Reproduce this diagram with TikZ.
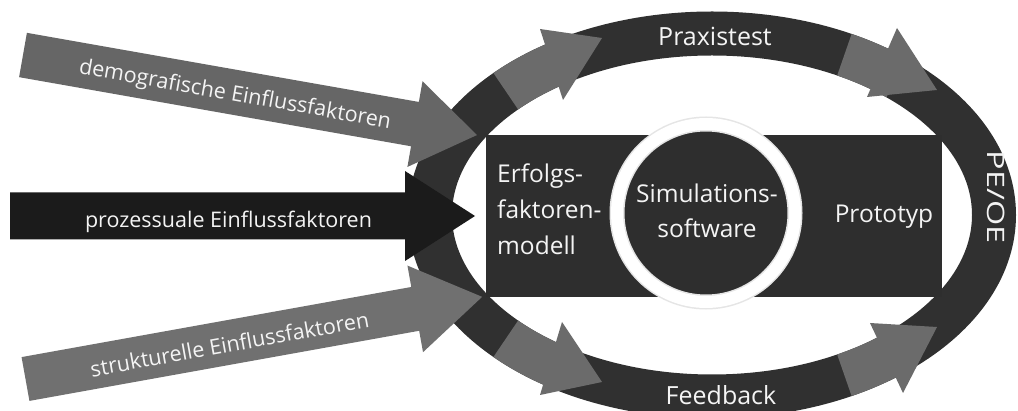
\documentclass[tikz,border=0pt]{standalone}
\usepackage{fontspec}
\setmainfont{Open Sans}
\definecolor{ringdark}{HTML}{303030}
\definecolor{ringgray}{HTML}{6B6B6B}
\definecolor{boxdark}{HTML}{2E2E2E}
\definecolor{blackarrow}{HTML}{1B1B1B}
\definecolor{demogray}{HTML}{666666}
\definecolor{strukgray}{HTML}{707070}
\definecolor{txtwhite}{HTML}{F4F4F4}
\begin{document}
\begin{tikzpicture}[x=1pt,y=-1pt,
  lbl/.style={text=txtwhite, inner sep=0pt},
  arrowfont/.style={font=\fontsize{21.5}{26}\selectfont},
  bandfont/.style={font=\fontsize{25}{30}\selectfont},
  boxfont/.style={font=\fontsize{24.5}{30}\selectfont},
  ringband/.style={line width=44pt},
  ringhead/.style={fill=ringgray},
  ringbody/.style={draw=ringgray, line width=44pt}]
\useasboundingbox (0,0) rectangle (1018,411);
\clip (0,0) rectangle (1018,411);
\fill[white] (0,0) rectangle (1018,411);

% ring
\coordinate (rc) at (712,215);
\draw[ringdark, ringband] (rc) ellipse [x radius=282, y radius=181.5];

% gray arrow segments on the ring
\draw[ringbody] ([shift={(712,215)}]-137:282 and 181.5) arc[start angle=-137, end angle=-121, x radius=282, y radius=181.5];
\fill[ringhead] (540,29) -- (602,38) -- (563,100) -- cycle;
\draw[ringbody] ([shift={(712,215)}]-62:282 and 181.5) arc[start angle=-62, end angle=-49, x radius=282, y radius=181.5];
\fill[ringhead] (897,28) -- (937,90) -- (867,97) -- cycle;
\draw[ringbody] ([shift={(712,215)}]62:282 and 181.5) arc[start angle=62, end angle=49, x radius=282, y radius=181.5];
\fill[ringhead] (870,323) -- (937,327) -- (903,393) -- cycle;
\draw[ringbody] ([shift={(712,215)}]137:282 and 181.5) arc[start angle=137, end angle=121, x radius=282, y radius=181.5];
\fill[ringhead] (562,322) -- (602,382) -- (540,395) -- cycle;

% central box and circle
\node[fill=boxdark, minimum width=456pt, minimum height=162pt, inner sep=0pt] (box) at (714,216) {};
\node[circle, fill=boxdark, draw=black!10, line width=15pt, minimum size=178pt, inner sep=0pt] (sim) at (706,213) {};
\draw[white, line width=12pt] (sim.center) circle[radius=89];

% input arrows
\begin{scope}[shift={(23,55)}, rotate=-10]
  \fill[demogray] (0,-22.5) -- (398,-22.5) -- (398,-43.5) -- (461,0) -- (398,43.5) -- (398,22.5) -- (0,22.5) -- cycle;
\end{scope}
\begin{scope}[shift={(25.5,379)}, rotate=10.2]
  \fill[strukgray] (0,-22.25) -- (396,-22.25) -- (396,-44) -- (464,0) -- (396,44) -- (396,22.25) -- (0,22.25) -- cycle;
\end{scope}
\fill[blackarrow] (10,192.5) -- (405,192.5) -- (405,171) -- (475,216) -- (405,261) -- (405,239.5) -- (10,239.5) -- cycle;

% labels
\node[lbl, arrowfont, anchor=base, rotate=-10] (demo) at (234,101) {demografische Einflussfaktoren};
\node[lbl, arrowfont, anchor=base] (proz) at (228.5,228) {prozessuale Einflussfaktoren};
\node[lbl, arrowfont, anchor=base, rotate=10.2] (struk) at (231,352) {strukturelle Einflussfaktoren};

\node[lbl, bandfont, anchor=base] (praxis) at (715,46) {Praxistest};
\node[lbl, bandfont, anchor=base] (feedback) at (721,405) {Feedback};
\node[lbl, font=\fontsize{24}{28}\selectfont, rotate=-90] (peoe) at (996,197) {\scalebox{1.35}[1]{PE/OE}};

\node[lbl, boxfont, anchor=base west] (e1) at (497,183) {Erfolgs-};
\node[lbl, boxfont, anchor=base west] (e2) at (497,219) {faktoren-};
\node[lbl, boxfont, anchor=base west] (e3) at (497,255) {modell};
\node[lbl, boxfont, anchor=base] (s1) at (707,203) {Simulations-};
\node[lbl, boxfont, anchor=base] (s2) at (707,238) {software};
\node[lbl, boxfont, anchor=base] (proto) at (884,223) {Prototyp};
\end{tikzpicture}
\end{document}
